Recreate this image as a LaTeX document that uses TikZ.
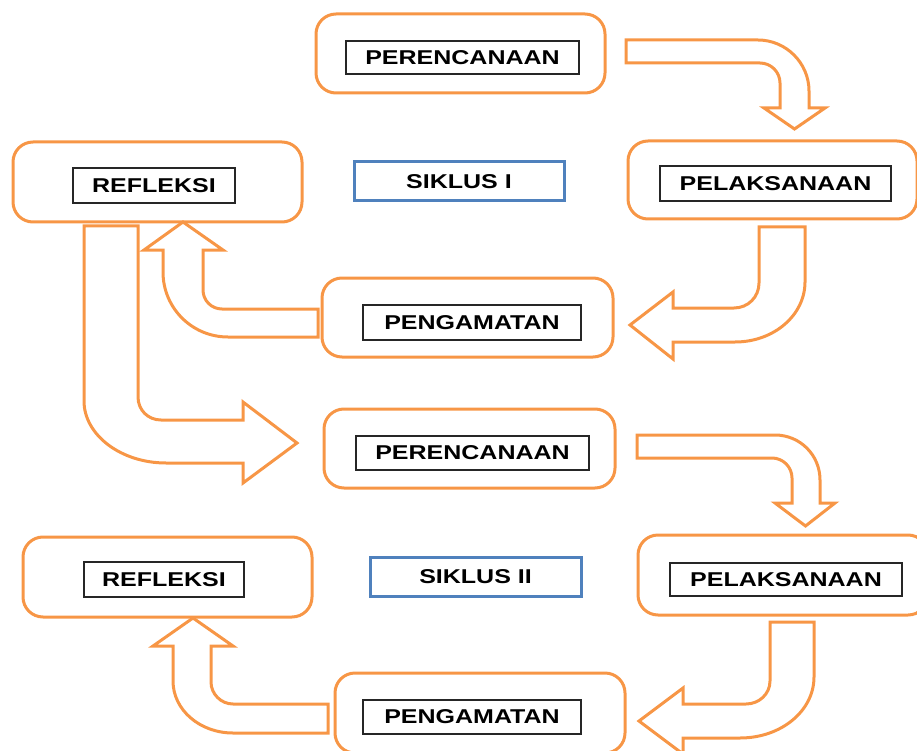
\documentclass[tikz,border=0pt]{standalone}
\usepackage{fontspec}
\setmainfont{Liberation Sans}
\newfontfamily\lblfont[FakeStretch=1.25]{Liberation Sans Bold}
\definecolor{orng}{HTML}{F79646}
\definecolor{blu}{HTML}{4F81BD}
\tikzset{
  obox/.style 2 args={draw=orng, line width=3pt, rounded corners=20pt, minimum width=#1, minimum height=#2, inner sep=0pt},
  ibox/.style 2 args={draw=black!85, line width=1.5pt, minimum width=#1, minimum height=#2, inner sep=0pt, text=black, font=\lblfont\fontsize{20}{24}\selectfont},
  sbox/.style 2 args={draw=blu, line width=3pt, minimum width=#1, minimum height=#2, inner sep=0pt, text=black, font=\lblfont\fontsize{20}{24}\selectfont},
  barrow/.style={draw=orng, line width=3pt}
}
\begin{document}
\begin{tikzpicture}[x=1pt,y=-1pt]
\useasboundingbox (0,0) rectangle (917,751);
\clip (0,0) rectangle (917,751);

% ---- Siklus I ----
\node[obox={289pt}{79pt}] (p1) at (460.5,53.5) {};
\node[ibox={233pt}{33pt}] (p1t) at (462.5,57.5) {PERENCANAAN};

\node[obox={289pt}{78pt}] (l1) at (772.5,180) {};
\node[ibox={231pt}{35pt}] (l1t) at (775.5,183.5) {PELAKSANAAN};

\node[obox={289pt}{80pt}] (r1) at (157.5,182) {};
\node[ibox={162pt}{35pt}] (r1t) at (154,185.5) {REFLEKSI};

\node[sbox={210pt}{39pt}] (s1) at (459,181.5) {SIKLUS I};

\node[obox={291pt}{79pt}] (g1) at (467.5,317.5) {};
\node[ibox={218pt}{35pt}] (g1t) at (472,322.5) {PENGAMATAN};

% ---- Siklus II ----
\node[obox={291pt}{79pt}] (p2) at (469.5,448.5) {};
\node[ibox={233pt}{34pt}] (p2t) at (472.5,453) {PERENCANAAN};

\node[obox={290pt}{80pt}] (l2) at (783,575) {};
\node[ibox={232pt}{33pt}] (l2t) at (786,579.5) {PELAKSANAAN};

\node[obox={289pt}{80pt}] (r2) at (167.5,577) {};
\node[ibox={160pt}{35pt}] (r2t) at (164,579.5) {REFLEKSI};

\node[sbox={211pt}{39pt}] (s2) at (475.5,576.5) {SIKLUS II};

\node[obox={290pt}{80pt}] (g2) at (480,713) {};
\node[ibox={218pt}{34pt}] (g2t) at (472,717) {PENGAMATAN};

% ---- block arrows ----
% A: perencanaan 1 -> pelaksanaan 1
\draw[barrow] (626,40) -- (758,40) .. controls (786,40) and (809,63) .. (809,91)
  -- (809,108) -- (825,108) -- (794.5,129) -- (764,108) -- (780,108) -- (780,83)
  .. controls (780,72) and (771,63) .. (760,63) -- (626,63) -- cycle;
% B: pelaksanaan 1 -> pengamatan 1
\draw[barrow] (759,227) -- (805,227) -- (805,282) .. controls (805,315) and (774,342) .. (735,342)
  -- (673,342) -- (673,359) -- (630,325) -- (673,292) -- (673,308) -- (734,308)
  .. controls (748,308) and (759,297) .. (759,283) -- cycle;
% C: pengamatan 1 -> refleksi 1
\draw[barrow] (318,309) -- (222,309) .. controls (211.5,309) and (203,300.5) .. (203,290)
  -- (203,250) -- (223,250) -- (183,222) -- (144,250) -- (163,250) -- (163,272)
  .. controls (163,308) and (192,337) .. (228,337) -- (318,337) -- cycle;
% D: refleksi 1 -> perencanaan 2
\draw[barrow] (84,226) -- (138,226) -- (138,397) .. controls (138,410) and (148,420) .. (161,420)
  -- (243,420) -- (243,402) -- (297,443) -- (243,483) -- (243,463) -- (166,463)
  .. controls (121,463) and (84,435) .. (84,401) -- cycle;
% E: perencanaan 2 -> pelaksanaan 2
\draw[barrow] (637,435) -- (775,435) .. controls (800,435) and (820,455) .. (820,480)
  -- (820,503) -- (835,503) -- (805.5,526) -- (775,503) -- (792,503) -- (792,478)
  .. controls (792,467) and (783,458) .. (772,458) -- (637,458) -- cycle;
% F: pelaksanaan 2 -> pengamatan 2
\draw[barrow] (770,622) -- (814,622) -- (814,677) .. controls (814,711) and (781,738) .. (740,738)
  -- (683,738) -- (683,754) -- (639,721) -- (683,688) -- (683,704) -- (746,704)
  .. controls (759,704) and (770,694) .. (770,681) -- cycle;
% G: pengamatan 2 -> refleksi 2
\draw[barrow] (328,704) -- (233,704) .. controls (221,704) and (211,694) .. (211,682)
  -- (211,646) -- (233,646) -- (193,618) -- (153,646) -- (173,646) -- (173,681)
  .. controls (173,710) and (200,733) .. (233,733) -- (328,733) -- cycle;
\end{tikzpicture}
\end{document}
